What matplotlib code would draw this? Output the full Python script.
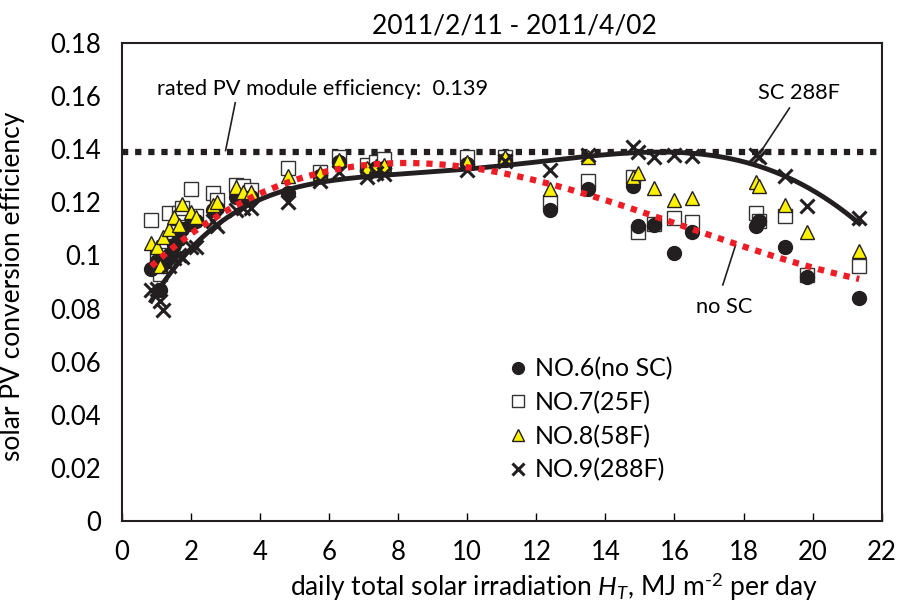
import numpy as np
import matplotlib
matplotlib.use("Agg")
import matplotlib.pyplot as plt

plt.rcParams['font.family'] = ['Lato', 'DejaVu Sans']
plt.rcParams['mathtext.fontset'] = 'custom'
plt.rcParams['mathtext.rm'] = 'Lato'
plt.rcParams['mathtext.it'] = 'Lato:italic'

# daily total solar irradiation (MJ m-2 per day)
H = [0.85, 1.0, 1.1, 1.2, 1.35, 1.5, 1.65, 1.75, 2.0, 2.15, 2.65, 2.75, 3.3, 3.5, 3.75,
     4.8, 5.73, 6.28, 7.1, 7.35, 7.6, 10.0, 11.1, 12.4, 13.5, 14.8, 14.95, 15.4,
     16.0, 16.5, 18.35, 18.45, 19.2, 19.85, 21.35]
no6 = [0.095, 0.098, 0.087, 0.097, 0.100, 0.104, 0.106, 0.110, 0.112, 0.113, 0.117, 0.118, 0.122, 0.121, 0.122,
       0.1235, 0.130, 0.135, 0.132, 0.133, 0.133, 0.1345, 0.136, 0.117, 0.125, 0.126, 0.111, 0.1115,
       0.101, 0.109, 0.111, 0.113, 0.103, 0.092, 0.084]
no7 = [0.1135, 0.099, 0.093, 0.100, 0.116, 0.109, 0.116, 0.118, 0.125, 0.115, 0.1235, 0.121, 0.1265, 0.126, 0.1245,
       0.133, 0.1315, 0.137, 0.134, 0.135, 0.1365, 0.137, 0.137, 0.120, 0.128, 0.1295, 0.109, 0.112,
       0.114, 0.1125, 0.116, 0.113, 0.115, 0.0925, 0.096]
no8 = [0.1045, 0.103, 0.096, 0.107, 0.110, 0.1145, 0.1115, 0.1195, 0.1165, 0.1145, 0.119, 0.120, 0.1258, 0.124, 0.124,
       0.130, 0.131, 0.136, 0.133, 0.1335, 0.134, 0.135, 0.137, 0.125, 0.137, 0.1295, 0.131, 0.1255,
       0.121, 0.1215, 0.1275, 0.126, 0.119, 0.109, 0.1015]
no9 = [0.087, 0.0875, 0.083, 0.0795, 0.096, 0.099, 0.100, 0.0995, 0.103, 0.103, 0.113, 0.111, 0.117, 0.118, 0.118,
       0.120, 0.128, 0.1315, 0.1295, 0.131, 0.1305, 0.132, 0.1355, 0.132, 0.138, 0.141, 0.139, 0.137,
       0.138, 0.1375, 0.1378, 0.137, 0.130, 0.1185, 0.114]
rated_eff = 0.139

labels = ['NO.6(no SC)', 'NO.7(25F)', 'NO.8(58F)', 'NO.9(288F)']
x_ticks = list(range(0, 23, 2))
y_ticks = [0, 0.02, 0.04, 0.06, 0.08, 0.1, 0.12, 0.14, 0.16, 0.18]
y_ticklabels = ['0', '0.02', '0.04', '0.06', '0.08', '0.1', '0.12', '0.14', '0.16', '0.18']

fig = plt.figure(figsize=(8.99, 6.10), dpi=100)
ax = fig.add_axes([0.1357, 0.146, 0.845, 0.7835])

H_arr = np.array(H)
ms = 9.5
h7 = ax.plot(H, no7, 's', ms=ms, mfc='white', mec='#333333', mew=1.0, ls='none', zorder=3)[0]
h6 = ax.plot(H, no6, 'o', ms=ms + 0.5, mfc='#231f20', mec='#231f20', ls='none', zorder=4)[0]
h8 = ax.plot(H, no8, '^', ms=ms + 1, mfc='#fff200', mec='#231f20', mew=1.0, ls='none', zorder=5)[0]
h9 = ax.plot(H, no9, 'x', ms=ms + 1, mec='#231f20', mew=2.2, ls='none', zorder=6)[0]

# trend lines (polynomial fits of the data)
xs = np.linspace(min(H), max(H), 300)
p9 = np.polyfit(H_arr, np.array(no9), 5)
ax.plot(xs, np.polyval(p9, xs), color='#231f20', lw=3.5, zorder=7)
p6 = np.polyfit(H_arr, np.array(no6), 3)
ax.plot(xs, np.polyval(p6, xs), color='#ee1c25', lw=4.5, ls=(0, (1, 1.1)),
        dash_capstyle='butt', zorder=8)

# rated efficiency line
ax.plot([0, 22], [rated_eff, rated_eff], color='#231f20', lw=4.5, ls=(0, (1, 1.1)),
        dash_capstyle='butt', zorder=2)

fs = 19
afs = 15.7
ax.text(1.0, 0.1627, 'rated PV module efficiency:  0.139', fontsize=afs, va='center', ha='left')
ax.plot([3.28, 3.0], [0.1575, 0.1395], color='#231f20', lw=1.2)
ax.text(19.62, 0.1612, 'SC 288F', fontsize=afs, va='center', ha='center')
ax.plot([19.33, 18.47], [0.1555, 0.1385], color='#231f20', lw=1.2)
ax.text(17.45, 0.0806, 'no SC', fontsize=afs, va='center', ha='center')
ax.plot([17.4, 17.77], [0.0889, 0.1039], color='#231f20', lw=1.2)

ax.set_xlim(0, 22)
ax.set_ylim(0, 0.18)
ax.set_xticks(x_ticks)
ax.set_xticklabels([str(v) for v in x_ticks])
ax.set_yticks(y_ticks)
ax.set_yticklabels(y_ticklabels)
ax.tick_params(axis='x', direction='in', length=6, width=1, labelsize=18.5, pad=14)
ax.tick_params(axis='y', direction='in', length=0, labelsize=18.5, pad=15)
for s in ax.spines.values():
    s.set_linewidth(1.5)
    s.set_color('#231f20')

ax.set_xlabel(r'daily total solar irradiation $H_T$, MJ m$^{\text{-2}}$ per day', fontsize=19)
ax.xaxis.set_label_coords(0.568, -0.105)
ax.set_ylabel('solar PV conversion efficiency', fontsize=fs)
ax.yaxis.set_label_coords(-0.128, 0.49)
ax.set_title('2011/2/11 - 2011/4/02', fontsize=fs, pad=7, x=0.517)

leg = ax.legend([h6, h7, h8, h9], labels, loc='upper left', bbox_to_anchor=(0.512, 0.343),
                frameon=False, fontsize=18, handlelength=0.6, handletextpad=0.35,
                labelspacing=0.42, markerscale=0.85, borderpad=0, borderaxespad=0)

fig.savefig('out.png', dpi=100)
